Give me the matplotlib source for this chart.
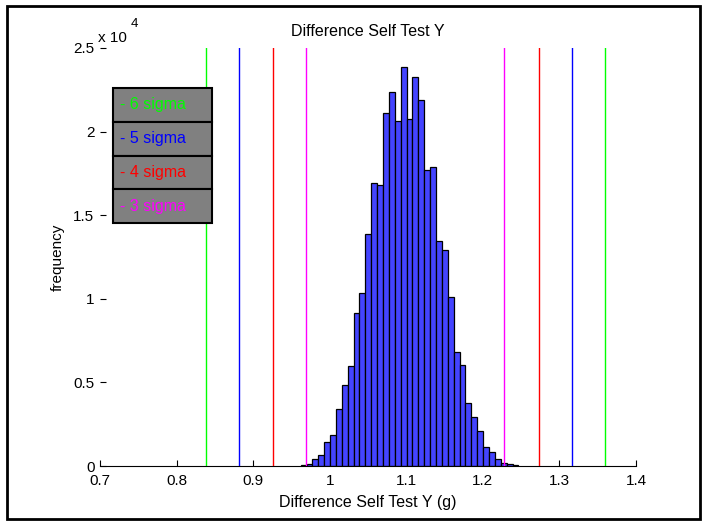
import matplotlib
matplotlib.use("Agg")
import matplotlib.pyplot as plt
import numpy as np
from matplotlib.patches import Rectangle
from matplotlib.ticker import FuncFormatter

# histogram of the difference self test Y (g)
binStart = 0.962
binEnd = 1.2465
counts = [60, 120, 400, 680, 1420, 1850, 3390, 4850, 5960, 9130,
          10330, 13880, 16910, 16830, 21130, 22390, 20650, 23850, 20770, 23250,
          21890, 17700, 17900, 13460, 12940, 10130, 6840, 6040, 3790, 2950,
          2070, 1150, 840, 400, 200, 90, 40]

# sigma limits, inner to outer is 3..6 sigma
sigmaLabels = ["- 6 sigma", "- 5 sigma", "- 4 sigma", "- 3 sigma"]
sigmaColors = ["#00ff00", "#0000ff", "#ff0000", "#ff00ff"]
lowerLimits = [0.8385, 0.882, 0.9258, 0.9696]
upperLimits = [1.3592, 1.316, 1.2727, 1.2282]

xTicks = [0.7, 0.8, 0.9, 1.0, 1.1, 1.2, 1.3, 1.4]
xTickLabels = ["0.7", "0.8", "0.9", "1", "1.1", "1.2", "1.3", "1.4"]
yTicks = [0, 5000, 10000, 15000, 20000, 25000]

plt.rcParams['font.family'] = ['Liberation Sans', 'DejaVu Sans']
plt.rcParams['font.size'] = 11

fig = plt.figure(figsize=(7.07, 5.25), dpi=100)
ax = fig.add_axes([100 / 707, 1 - 466 / 525, 536 / 707, 418 / 525])

edges = np.linspace(binStart, binEnd, len(counts) + 1)
ax.bar(edges[:-1], counts, width=np.diff(edges), align='edge',
       color='#4444ff', edgecolor='black', linewidth=0.9, zorder=2)

for lo, hi, c in zip(lowerLimits, upperLimits, sigmaColors):
    ax.axvline(lo, color=c, lw=1.0, zorder=3)
    ax.axvline(hi, color=c, lw=1.0, zorder=3)

ax.set_xlim(0.7, 1.4)
ax.set_ylim(0, 25000)
ax.set_xticks(xTicks)
ax.set_xticklabels(xTickLabels)
ax.set_yticks(yTicks)
ax.yaxis.set_major_formatter(FuncFormatter(lambda v, p: "{:g}".format(v / 1e4)))
ax.tick_params(direction='in', length=4, width=0.8, colors='black')
ax.tick_params(axis='x', pad=6)
ax.tick_params(axis='y', pad=4)

for side in ['top', 'right', 'left']:
    ax.spines[side].set_visible(False)
ax.spines['bottom'].set_linewidth(0.8)

ax.set_title("Difference Self Test Y", fontsize=11.5, pad=9)
ax.set_xlabel("Difference Self Test Y (g)", fontsize=11.5, labelpad=5)
ax.set_ylabel("frequency", labelpad=6)

# exponent like matlab
ax.text(-0.004, 1.0144, "x 10", transform=ax.transAxes, va='baseline', ha='left')
ax.text(0.058, 1.05, "4", transform=ax.transAxes, va='baseline', ha='left', fontsize=9.5)

# stacked legend boxes
boxLeft = (113.3 - 100) / 536
boxWidth = (212.3 - 113.3) / 536
boxTop = (466 - 87.7) / 418
boxHeight = (223.3 - 87.7) / 418 / len(sigmaLabels)
for i, (label, c) in enumerate(zip(sigmaLabels, sigmaColors)):
    y0 = boxTop - (i + 1) * boxHeight
    ax.add_patch(Rectangle((boxLeft, y0), boxWidth, boxHeight, transform=ax.transAxes,
                           facecolor='#808080', edgecolor='black', linewidth=1.5, zorder=5))
    ax.text(boxLeft + 0.013, y0 + boxHeight / 2, label, color=c, transform=ax.transAxes,
            va='center', ha='left', fontsize=11.5, zorder=6)

# frame around the whole figure
fig.add_artist(Rectangle((7 / 707, 6 / 525), 693 / 707, 513 / 525, transform=fig.transFigure,
                         fill=False, edgecolor='black', linewidth=2))

fig.savefig("out.png", dpi=100)
